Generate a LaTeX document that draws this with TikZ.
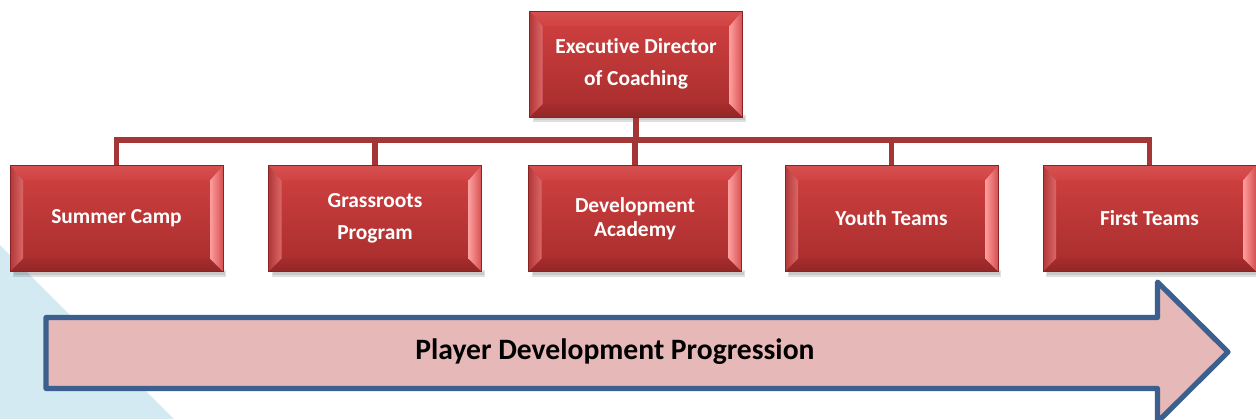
\documentclass[tikz,border=0pt]{standalone}
\usepackage{fontspec}
\setmainfont[Ligatures={NoCommon}]{Carlito}
\usetikzlibrary{calc,backgrounds}
\definecolor{bgblue}{HTML}{D3EAF2}
\definecolor{facetop}{HTML}{D24141}
\definecolor{facebot}{HTML}{A62C2C}
\definecolor{boxedge}{HTML}{8A2424}
\definecolor{lineRed}{HTML}{A53636}
\definecolor{arrowblue}{HTML}{3B5F8F}
\definecolor{arrowpink}{HTML}{E6B8B7}
\colorlet{topbevA}{facetop!92!white}
\colorlet{topbevB}{facetop}
\colorlet{botbevA}{facebot}
\colorlet{botbevB}{facebot!88!black}
\colorlet{leftbevA}{facetop!85!black}
\colorlet{leftbevB}{facetop!80!white}
\colorlet{rightbevA}{red!38!white}
\colorlet{rightbevB}{facetop!92!white}
\tikzset{
  bev/.style={minimum width=106.5pt, minimum height=53pt, inner sep=0pt, outer sep=0pt,
    draw=boxedge, line width=0.4pt, text=white, align=center,
    font=\bfseries\fontsize{10.7}{16}\selectfont,
    path picture={
      \coordinate (ppsw) at (path picture bounding box.south west);
      \coordinate (ppne) at (path picture bounding box.north east);
      \coordinate (ppnw) at (ppsw |- ppne);
      \coordinate (ppse) at (ppne |- ppsw);
      \shade[top color=facetop, bottom color=facebot] (ppsw) rectangle (ppne);
      \shade[top color=topbevA, bottom color=topbevB] (ppnw) -- (ppne) -- ($(ppne)+(-13,15)$) -- ($(ppnw)+(13,15)$) -- cycle;
      \shade[top color=botbevA, bottom color=botbevB] (ppsw) -- (ppse) -- ($(ppse)+(-13,-13)$) -- ($(ppsw)+(13,-13)$) -- cycle;
      \shade[left color=leftbevA, right color=leftbevB] (ppsw) -- (ppnw) -- ($(ppnw)+(13,15)$) -- ($(ppsw)+(13,-13)$) -- cycle;
      \shade[left color=rightbevA, right color=rightbevB] ($(ppse)+(-13,-13)$) -- ($(ppne)+(-13,15)$) -- (ppne) -- (ppse) -- cycle;
    }},
  conn/.style={draw=lineRed, line width=2.6pt},
}
\begin{document}
\begin{tikzpicture}[x=0.5pt,y=-0.5pt]
\useasboundingbox (0,0) rectangle (1256,419);
\coordinate (busy) at (0,140);

\node[bev] (top) at (636,64) {Executive Director\\of Coaching};
\node[bev] (b1) at (116.5,218.5) {Summer Camp};
\node[bev] (b2) at (375,218.5) {Grassroots\\Program};
\node[bev, font=\bfseries\fontsize{10.7}{12.2}\selectfont] (b3) at (635,218.5) {Development\\Academy};
\node[bev] (b4) at (891.5,218.5) {Youth Teams};
\node[bev] (b5) at (1149.5,218.5) {First Teams};

\begin{scope}[on background layer]
  \fill[bgblue] (0,245) -- (0,419) -- (174,419) -- cycle;
  \foreach \n in {top,b1,b2,b3,b4,b5}{
    \fill[black, opacity=0.12] ($(\n.south west)+(3,-2)$) rectangle ($(\n.south east)+(3,5)$);
    \fill[black, opacity=0.10] ($(\n.south west)+(4,0)$) rectangle ($(\n.south east)+(2,3)$);
  }
  \foreach \n in {b1,b2,b3,b4,b5}{
    \draw[conn] (top.south) |- (\n.north |- busy) -- (\n.north);
  }
\end{scope}

\draw[arrowblue, line width=2.6pt, fill=arrowpink, line join=round]
  (46,317.5) -- (1157.5,317.5) -- (1157.5,282) -- (1228,352) -- (1157.5,422)
  -- (1157.5,388.5) -- (46,388.5) -- cycle;
\node[font=\bfseries\fontsize{14.8}{16}\selectfont] (prog) at (615,352) {Player Development Progression};
\end{tikzpicture}
\end{document}
